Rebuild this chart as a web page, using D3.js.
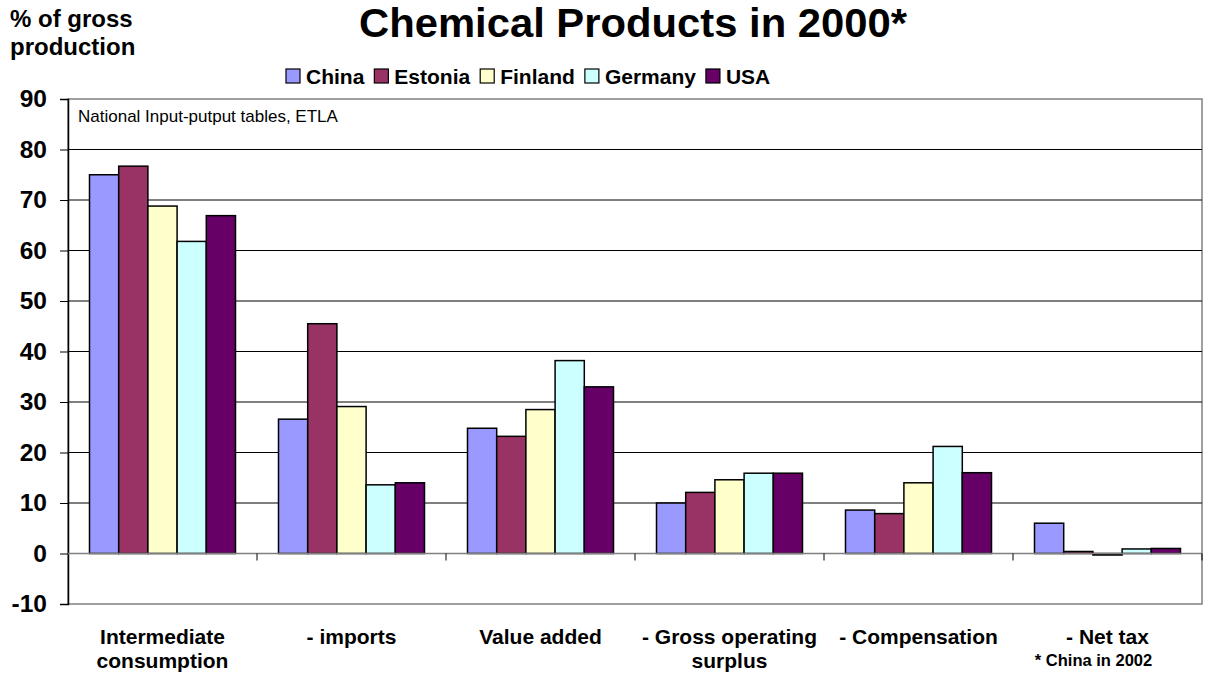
<!DOCTYPE html>
<html><head><meta charset="utf-8">
<script src="https://cdn.jsdelivr.net/npm/d3@7"></script>
<style>body{margin:0;background:#fff}svg{display:block;font-family:Arial,"Liberation Sans",sans-serif}</style>
</head><body><svg id="c" width="1205" height="675"></svg>
<script>
const categories = [["Intermediate","consumption"],["- imports"],["Value added"],["- Gross operating","surplus"],["- Compensation"],["- Net tax"]];
const seriesNames = ["China","Estonia","Finland","Germany","USA"];
const colors = ["#9999FF","#993366","#FFFFCC","#CCFFFF","#660066"];
const China   = [75.0, 26.6, 24.8, 10.0,  8.6, 6.0];
const Estonia = [76.7, 45.5, 23.2, 12.1,  7.9, 0.4];
const Finland = [68.8, 29.1, 28.5, 14.6, 14.0, -0.3];
const Germany = [61.8, 13.6, 38.2, 15.9, 21.2, 0.9];
const USA     = [66.9, 14.0, 33.0, 15.9, 16.0, 1.0];
const yTicks = [-10,0,10,20,30,40,50,60,70,80,90];
const values = [China, Estonia, Finland, Germany, USA];

const svg = d3.select("#c");
const L = 68, R = 1202, T = 99, B = 604;
const x = d3.scaleBand().domain(d3.range(categories.length)).range([L, R]).padding(0);
const xs = d3.scaleBand().domain(d3.range(seriesNames.length)).range([0, 146]);
const off = (x.bandwidth() - 146) / 2;
const y = d3.scaleLinear().domain([-10, 90]).range([B, T]);

// plot border
svg.append("rect").attr("x", L).attr("y", T).attr("width", R - L).attr("height", B - T)
  .attr("fill", "none").attr("stroke", "#808080").attr("stroke-width", 1.5);
// gridlines
svg.append("g").selectAll("line").data(yTicks.filter(t => t > 0 && t < 90)).join("line")
  .attr("x1", L).attr("x2", R).attr("y1", d => y(d)).attr("y2", d => y(d))
  .attr("stroke", "#000").attr("stroke-width", 1);

// y axis
const ya = svg.append("g").attr("transform", `translate(${L},0)`)
  .call(d3.axisLeft(y).tickValues(yTicks).tickFormat(d => String(d)).tickSize(8).tickPadding(13));
ya.select(".domain").attr("stroke", "#000").attr("stroke-width", 1.5);
ya.selectAll(".tick line").attr("stroke", "#000");
ya.selectAll("text").attr("font-size", 24.5).attr("font-weight", "bold").attr("fill", "#000")
  .attr("font-family", "Arial, 'Liberation Sans', sans-serif");

// bars
const g = svg.append("g");
seriesNames.forEach((s, si) => {
  g.append("g").selectAll("rect").data(values[si]).join("rect")
    .attr("x", (d, i) => x(i) + off + xs(si))
    .attr("width", xs.bandwidth())
    .attr("y", d => Math.min(y(d), y(0)))
    .attr("height", d => Math.abs(y(d) - y(0)))
    .attr("fill", colors[si]).attr("stroke", "#000").attr("stroke-width", 1.5);
});

// x axis at zero
const xa = svg.append("g").attr("transform", `translate(0,${y(0)})`);
xa.append("line").attr("x1", L).attr("x2", R).attr("stroke", "#808080").attr("stroke-width", 1.5);
xa.selectAll("line.t").data(d3.range(1, categories.length + 1)).join("line").attr("class", "t")
  .attr("x1", i => x.range()[0] + i * x.step()).attr("x2", i => x.range()[0] + i * x.step())
  .attr("y1", 0).attr("y2", 7).attr("stroke", "#000").attr("stroke-width", 1);

// category labels
categories.forEach((lines, i) => {
  const t = svg.append("text").attr("x", x(i) + x.bandwidth() / 2).attr("y", 644)
    .attr("text-anchor", "middle").attr("font-size", 21).attr("font-weight", "bold");
  lines.forEach((ln, k) => t.append("tspan").attr("x", x(i) + x.bandwidth() / 2).attr("dy", k ? 24 : 0).text(ln));
});
svg.append("text").attr("x", x(5) + x.bandwidth() / 2 - 14).attr("y", 666).attr("text-anchor", "middle")
  .attr("font-size", 16.5).attr("font-weight", "bold").text("* China in 2002");

// title
svg.append("text").attr("x", 633).attr("y", 37).attr("text-anchor", "middle")
  .attr("font-size", 40).attr("font-weight", "bold")
  .attr("textLength", 548).attr("lengthAdjust", "spacingAndGlyphs").text("Chemical Products in 2000*");
svg.append("text").attr("x", 10).attr("y", 27).attr("font-size", 24).attr("font-weight", "bold").text("% of gross");
svg.append("text").attr("x", 10).attr("y", 55).attr("font-size", 24).attr("font-weight", "bold").text("production");

// source note
svg.append("text").attr("x", 78).attr("y", 122).attr("font-size", 17).text("National Input-putput tables, ETLA");

// legend
const lg = svg.append("g");
let cx = 286;
seriesNames.forEach((s, i) => {
  lg.append("rect").attr("x", cx).attr("y", 69).attr("width", 14).attr("height", 14)
    .attr("fill", colors[i]).attr("stroke", "#000").attr("stroke-width", 1.2);
  const t = lg.append("text").attr("x", cx + 20).attr("y", 84).attr("font-size", 21)
    .attr("font-weight", "bold").text(s);
  cx += 20 + t.node().getComputedTextLength() + 10;
});
</script></body></html>
